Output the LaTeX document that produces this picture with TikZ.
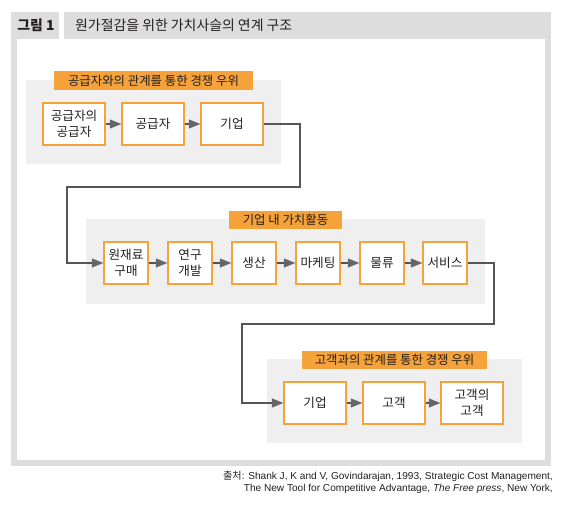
\documentclass[tikz,border=0pt]{standalone}
\usepackage{fontspec}
\newfontfamily\kr{Noto Sans CJK KR}
\newfontfamily\lat{Liberation Sans}
\usetikzlibrary{arrows.meta}
\definecolor{framegray}{HTML}{DCDDDC}
\definecolor{grpgray}{HTML}{EFEFEF}
\definecolor{orng}{HTML}{F5A23A}
\definecolor{lnk}{HTML}{555555}
\definecolor{tipgray}{HTML}{666666}
\definecolor{txt}{HTML}{231F20}
\begin{document}
\begin{tikzpicture}[x=1pt,y=-1pt,
  box/.style={draw=orng, line width=1.4pt, fill=white, inner sep=0pt, align=center,
    minimum height=42pt, font=\kr\fontsize{12.6}{16}\selectfont, text=txt},
  wbox/.style={box, minimum width=62pt},
  nbox/.style={box, minimum width=44pt},
  grp/.style={fill=grpgray, inner sep=0pt},
  lbl/.style={fill=orng, inner sep=0pt, font=\kr\fontsize{12.4}{14}\selectfont, text=txt},
  link/.style={draw=lnk, line width=1.1pt, -{Triangle[length=11.5pt,width=9pt,color=tipgray]}},
  ttl/.style={inner sep=0pt, text=txt, font=\kr\fontsize{13.9}{16}\selectfont},
  src/.style={anchor=east, inner sep=0pt, text=txt, font=\lat\fontsize{10.1}{12}\selectfont}
]
\useasboundingbox (0,0) rectangle (566,508);
% frame
\fill[framegray] (11,12) rectangle (59,38.7);
\fill[framegray] (64,12) rectangle (551,38.7);
\fill[framegray] (11,38.7) rectangle (551,466);
\fill[white] (17,38.7) rectangle (545,460);
\node[ttl, font=\kr\bfseries\fontsize{13.9}{16}\selectfont] (fig) at (36,25.5) {그림 1};
\node[ttl, anchor=west] (title) at (75,25.5) {원가절감을 위한 가치사슬의 연계 구조};

% top group
\node[grp, minimum width=255pt, minimum height=84pt] (g1) at (153.5,122) {};
\node[lbl, minimum width=199pt, minimum height=19pt] (l1) at (153.5,80.5) {공급자와의 관계를 통한 경쟁 우위};
\node[wbox] (a1) at (74,124) {공급자의\\공급자};
\node[wbox] (a2) at (153,124) {공급자};
\node[wbox] (a3) at (232,124) {기업};

% middle group
\node[grp, minimum width=399pt, minimum height=85pt] (g2) at (285.5,261.5) {};
\node[lbl, minimum width=113pt, minimum height=18pt] (l2) at (285.5,220) {기업 내 가치활동};
\node[nbox] (v1) at (126,263) {원재료\\구매};
\node[nbox] (v2) at (190,263) {연구\\개발};
\node[nbox] (v3) at (254,263) {생산};
\node[nbox] (v4) at (318,263) {마케팅};
\node[nbox] (v5) at (382,263) {물류};
\node[nbox] (v6) at (445,263) {서비스};

% bottom group
\node[grp, minimum width=255pt, minimum height=84pt] (g3) at (394.5,401) {};
\node[lbl, minimum width=185pt, minimum height=18pt] (l3) at (394.5,360) {고객과의 관계를 통한 경쟁 우위};
\node[wbox] (d1) at (315,403) {기업};
\node[wbox] (d2) at (394,403) {고객};
\node[wbox] (d3) at (472,403) {고객의\\고객};

% connectors
\draw[link] (a1) -- (a2);
\draw[link] (a2) -- (a3);
\draw[link] (v1) -- (v2);
\draw[link] (v2) -- (v3);
\draw[link] (v3) -- (v4);
\draw[link] (v4) -- (v5);
\draw[link] (v5) -- (v6);
\draw[link] (d1) -- (d2);
\draw[link] (d2) -- (d3);
\coordinate (k1) at (300,187);
\coordinate (k2) at (67,187);
\coordinate (k3) at (494,324);
\coordinate (k4) at (242,324);
\draw[link] (a3.east) -| (k1) -- (k2) |- (v1.west);
\draw[link] (v6.east) -| (k3) -- (k4) |- (d1.west);

% source
\node[src] (s1) at (553,476) {{\kr 출처}: Shank J, K and V, Govindarajan, 1993, Strategic Cost Management,};
\node[src] (s2) at (553,488.5) {The New Tool for Competitive Advantage, {\itshape The Free press}, New York,};
\end{tikzpicture}
\end{document}
